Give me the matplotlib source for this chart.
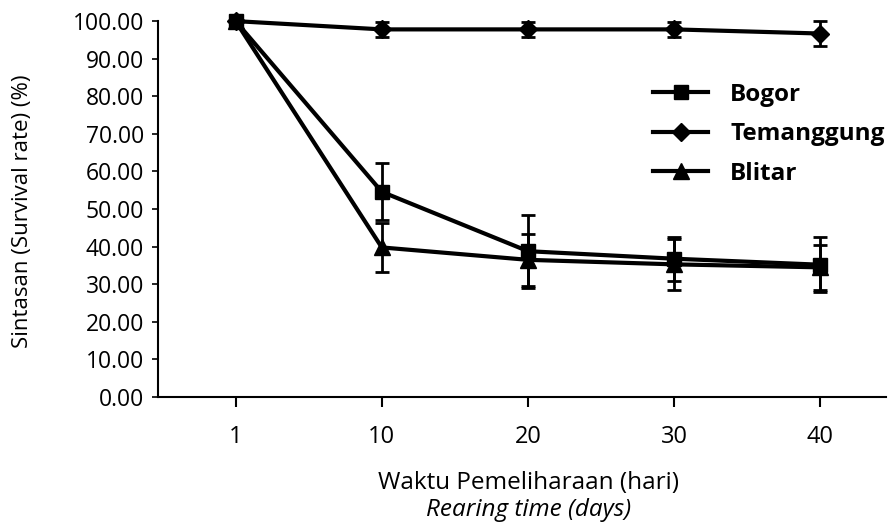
import matplotlib
matplotlib.use("Agg")
import matplotlib.pyplot as plt
from matplotlib.lines import Line2D

# Data
days = ["1", "10", "20", "30", "40"]
bogor = [100.0, 54.6, 38.8, 36.8, 35.2]
bogor_err = [0.0, 7.6, 9.7, 5.8, 7.3]
temanggung = [100.0, 97.8, 97.8, 97.8, 96.7]
temanggung_err = [0.0, 2.0, 2.0, 2.0, 3.2]
blitar = [100.0, 39.8, 36.5, 35.3, 34.5]
blitar_err = [0.0, 6.5, 6.9, 6.7, 6.0]

font = ["Open Sans", "DejaVu Sans"]

fig = plt.figure(figsize=(8.88, 5.28), dpi=100)
ax = fig.add_axes([0.178, 0.248, 0.820, 0.712])

x = list(range(1, len(days) + 1))
series = [
    ("Bogor", bogor, bogor_err, "s", 10),
    ("Temanggung", temanggung, temanggung_err, "D", 9),
    ("Blitar", blitar, blitar_err, "^", 11),
]
handles = []
for name, vals, err, mk, ms in series:
    ax.errorbar(x, vals, yerr=err, color="black", lw=3, marker=mk, ms=ms,
                ecolor="black", elinewidth=2, capsize=5, capthick=2,
                clip_on=False, zorder=3)
    handles.append(Line2D([], [], color="black", lw=3, marker=mk, ms=ms, label=name))

ax.set_xlim(0.47, 5.45)
ax.set_ylim(0, 100)
ax.set_yticks(range(0, 101, 10))
ax.set_yticklabels([f"{v:.2f}" for v in range(0, 101, 10)], family=font, fontsize=16.5)
ax.set_xticks(x)
ax.set_xticklabels(days, family=font, fontsize=17)

ax.spines["top"].set_visible(False)
ax.spines["right"].set_visible(False)
ax.spines["left"].set_linewidth(1.5)
ax.spines["bottom"].set_linewidth(1.5)
ax.tick_params(axis="y", direction="out", length=4, width=1.2, pad=6)
ax.tick_params(axis="x", direction="out", length=7, width=1.5, pad=13)

ax.legend(handles=handles, loc="upper left", bbox_to_anchor=(0.68, 0.836),
          frameon=False, borderpad=0, borderaxespad=0,
          handlelength=2.26, handletextpad=0.9, labelspacing=0.64,
          prop={"family": font, "weight": "bold", "size": 17.5})

fig.text(0.025, 0.60, "Sintasan (Survival rate) (%)", rotation=90,
         ha="center", va="center", family=font, fontsize=16)
fig.text(0.595, 0.085, "Waktu Pemeliharaan (hari)", ha="center", va="center",
         family=font, fontsize=17.5)
fig.text(0.595, 0.034, "Rearing time (days)", ha="center", va="center",
         family=font, fontsize=17.5, style="italic")

fig.savefig("out.png", dpi=100)
